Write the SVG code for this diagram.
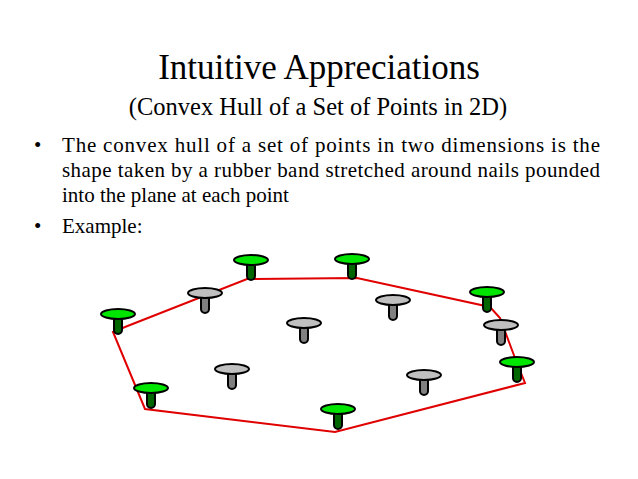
<svg xmlns="http://www.w3.org/2000/svg" width="638" height="479" viewBox="0 0 638 479">
<style>
text{font-family:"Liberation Serif",serif;fill:#000}
.b{font-size:21px}
</style>
<defs>
<g id="gn" stroke="#000" stroke-width="2"><rect fill="#006600" x="-4" y="-2" width="8" height="22" rx="4"/><ellipse fill="#00e600" cx="0" cy="0" rx="17" ry="5"/></g>
<g id="yn" stroke="#000" stroke-width="2"><rect fill="#808080" x="-4" y="-2" width="8" height="22" rx="4"/><ellipse fill="#c0c0c0" cx="0" cy="0" rx="17" ry="5"/></g>
</defs>
<rect width="638" height="479" fill="#fff"/>
<text x="319" y="79" font-size="35" text-anchor="middle">Intuitive Appreciations</text>
<text x="318" y="115" font-size="24.5" text-anchor="middle">(Convex Hull of a Set of Points in 2D)</text>
<text x="34" y="152" class="b">•</text>
<text x="62" y="152" class="b" textLength="538" lengthAdjust="spacing">The convex hull of a set of points in two dimensions is the</text>
<text x="62" y="177" class="b" textLength="538" lengthAdjust="spacing">shape taken by a rubber band stretched around nails pounded</text>
<text x="62" y="202" class="b">into the plane at each point</text>
<text x="34" y="233" class="b">•</text>
<text x="62" y="233" class="b">Example:</text>
<g id="connectors"><polygon points="113,332 125,327 247,279 357,278 490,307 500,318 515,358 525,383 335,432 145,409" fill="none" stroke="#e00000" stroke-width="2"/></g>
<g id="n1"><use href="#gn" x="118" y="314"/></g>
<g id="n2"><use href="#gn" x="251" y="260"/></g>
<g id="n3"><use href="#gn" x="151" y="388"/></g>
<g id="n4"><use href="#gn" x="352" y="259"/></g>
<g id="n5"><use href="#gn" x="487" y="292"/></g>
<g id="n6"><use href="#gn" x="517" y="362"/></g>
<g id="n7"><use href="#gn" x="338" y="409"/></g>
<g id="n8"><use href="#yn" x="205" y="293"/></g>
<g id="n9"><use href="#yn" x="232" y="369"/></g>
<g id="n10"><use href="#yn" x="304" y="323"/></g>
<g id="n11"><use href="#yn" x="393" y="300"/></g>
<g id="n12"><use href="#yn" x="501" y="325"/></g>
<g id="n13"><use href="#yn" x="424" y="375"/></g>
</svg>
